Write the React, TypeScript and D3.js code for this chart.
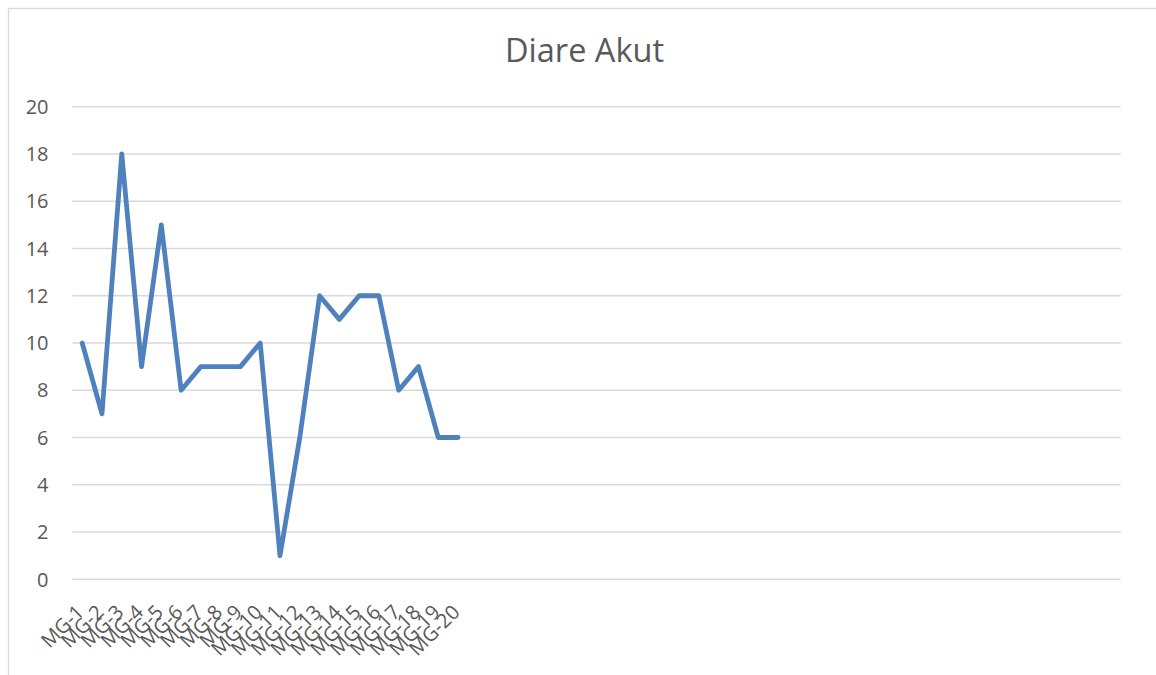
import React, { useEffect, useRef } from 'react';
import * as d3 from 'd3';

// chart data
const chartTitle = 'Diare Akut';
const categories = [
  'MG-1', 'MG-2', 'MG-3', 'MG-4', 'MG-5', 'MG-6', 'MG-7', 'MG-8', 'MG-9', 'MG-10',
  'MG-11', 'MG-12', 'MG-13', 'MG-14', 'MG-15', 'MG-16', 'MG-17', 'MG-18', 'MG-19', 'MG-20',
];
const values = [10, 7, 18, 9, 15, 8, 9, 9, 9, 10, 1, 6, 12, 11, 12, 12, 8, 9, 6, 6];
// the source range had empty rows after MG-20, they still take space on the axis
const totalSlots = 53;
const yTicks = [0, 2, 4, 6, 8, 10, 12, 14, 16, 18, 20];

const width = 1156;
const height = 675;
const margin = { top: 106.7, right: 35.3, bottom: 95.7, left: 72.3 };
const font = '"Open Sans", "Noto Sans", sans-serif';
const textColor = '#595959';
const gridColor = '#d9d9d9';
const lineColor = '#4f81bd';

function LineChart() {
  const ref = useRef<SVGSVGElement>(null);

  useEffect(() => {
    const svg = d3.select(ref.current);
    svg.selectAll('*').remove();

    const x = d3.scalePoint<number>()
      .domain(d3.range(totalSlots))
      .range([margin.left, width - margin.right])
      .padding(0.5);

    const y = d3.scaleLinear()
      .domain([0, 20])
      .range([height - margin.bottom, margin.top]);

    // outer chart frame (runs past the picture edge on right/bottom)
    svg.append('rect')
      .attr('x', 8.5)
      .attr('y', 8.5)
      .attr('width', 1160)
      .attr('height', 700)
      .attr('fill', '#fff')
      .attr('stroke', gridColor)
      .attr('stroke-width', 1.3);

    svg.append('text')
      .attr('x', 584.5)
      .attr('y', 62)
      .attr('text-anchor', 'middle')
      .attr('fill', textColor)
      .style('font-family', font)
      .style('font-size', '32.5px')
      .text(chartTitle);

    // gridlines + y labels
    const grid = svg.append('g');
    grid.selectAll('line')
      .data(yTicks)
      .enter()
      .append('line')
      .attr('x1', margin.left)
      .attr('x2', width - margin.right)
      .attr('y1', d => y(d))
      .attr('y2', d => y(d))
      .attr('stroke', gridColor)
      .attr('stroke-width', 1.4);

    grid.selectAll('text')
      .data(yTicks)
      .enter()
      .append('text')
      .attr('x', 48.5)
      .attr('y', d => y(d))
      .attr('dy', '0.36em')
      .attr('text-anchor', 'end')
      .attr('fill', textColor)
      .style('font-family', font)
      .style('font-size', '20px')
      .text(d => d);

    // rotated category labels
    svg.append('g')
      .selectAll('text')
      .data(categories)
      .enter()
      .append('text')
      .attr('transform', (d, i) => `translate(${x(i)! + 3},${y(0) + 34}) rotate(-45)`)
      .attr('text-anchor', 'end')
      .attr('fill', textColor)
      .style('font-family', font)
      .style('font-size', '20px')
      .text(d => d);

    const line = d3.line<number>()
      .x((d, i) => x(i)!)
      .y(d => y(d));

    svg.append('path')
      .datum(values)
      .attr('d', line)
      .attr('fill', 'none')
      .attr('stroke', lineColor)
      .attr('stroke-width', 4.8)
      .attr('stroke-linejoin', 'round')
      .attr('stroke-linecap', 'round');
  }, []);

  return (
    <svg
      ref={ref}
      width={width}
      height={height}
      style={{ position: 'absolute', left: 0, top: 0, background: '#fff' }}
    />
  );
}

export default function App() {
  return <LineChart />;
}
